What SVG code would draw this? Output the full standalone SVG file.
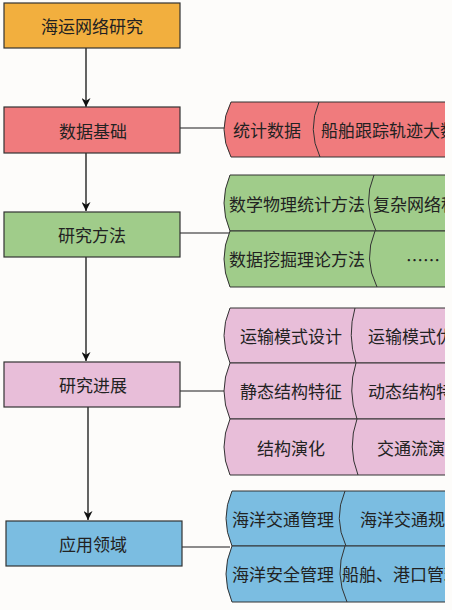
<svg xmlns="http://www.w3.org/2000/svg" width="452" height="610" viewBox="0 0 452 610">
<style>
  text { font-family: "Noto Sans CJK SC", "Noto Sans", sans-serif; font-size: 17px; fill: #222; dominant-baseline: central; }
  .box { stroke: #333; stroke-width: 1.2; }
  .seg { stroke: #333; stroke-width: 1; }
  .div { fill: none; stroke: #333; stroke-width: 1; }
  .arrow { stroke: #111; stroke-width: 1.3; fill: none; marker-end: url(#ah); }
  .link { stroke: #666; stroke-width: 1.6; fill: none; }
  .c-org { fill: #F2AF3E; }
  .c-red { fill: #F07B7D; }
  .c-grn { fill: #A0CC8A; }
  .c-pnk { fill: #E8BED9; }
  .c-blu { fill: #7BBDE1; }
</style>
<defs>
  <marker id="ah" viewBox="0 0 10 10" refX="10" refY="5" markerWidth="9" markerHeight="9" markerUnits="userSpaceOnUse" orient="auto">
    <path d="M0,0 L10,5 L0,10 L3,5 Z" fill="#111"/>
  </marker>
  <clipPath id="clip"><rect x="0" y="0" width="445" height="610"/></clipPath>
</defs>
<rect x="0" y="0" width="452" height="610" fill="#FDFCFA"/>

<g id="connectors">
  <line class="arrow" x1="86" y1="48" x2="86" y2="107"/>
  <line class="arrow" x1="86" y1="153" x2="86" y2="211"/>
  <line class="arrow" x1="86" y1="257" x2="86" y2="361"/>
  <line class="arrow" x1="88" y1="407" x2="88" y2="520"/>
  <line class="link" x1="180" y1="128" x2="224" y2="128"/>
  <line class="link" x1="180" y1="233" x2="230" y2="233"/>
  <line class="link" x1="180" y1="391" x2="224" y2="391"/>
  <line class="link" x1="182" y1="547" x2="230" y2="547"/>
</g>

<g id="node-root">
  <rect class="box c-org" x="4" y="3" width="176" height="45"/>
  <text x="92" y="25.5" text-anchor="middle">海运网络研究</text>
</g>
<g id="node-data">
  <rect class="box c-red" x="4" y="107" width="176" height="46"/>
  <text x="93" y="130" text-anchor="middle">数据基础</text>
</g>
<g id="node-method">
  <rect class="box c-grn" x="4" y="212" width="176" height="45"/>
  <text x="92" y="234" text-anchor="middle">研究方法</text>
</g>
<g id="node-progress">
  <rect class="box c-pnk" x="4" y="362" width="176" height="45"/>
  <text x="93" y="384" text-anchor="middle">研究进展</text>
</g>
<g id="node-app">
  <rect class="box c-blu" x="6" y="521" width="176" height="45"/>
  <text x="93" y="543" text-anchor="middle">应用领域</text>
</g>

<g id="chain-data" clip-path="url(#clip)">
  <path class="seg c-red" d="M231,102 L460,102 L460,157 L231,157 Q217,129.5 231,102 Z"/>
  <path class="div" d="M319,102 Q307,129.5 320,157"/>
  <text x="233" y="129">统计数据</text>
  <text x="321" y="129">船舶跟踪轨迹大数据</text>
</g>

<g id="chain-method" clip-path="url(#clip)">
  <path class="seg c-grn" d="M230,175 L460,175 L460,231 L230,231 Q218,203 230,175 Z"/>
  <path class="seg c-grn" d="M230,231 L460,231 L460,287 L230,287 Q218,259 230,231 Z"/>
  <path class="div" d="M374,175 Q362,203 376,231"/>
  <path class="div" d="M375,231 Q363,259 377,287"/>
  <text x="229" y="203">数学物理统计方法</text>
  <text x="373" y="203">复杂网络科学方法</text>
  <text x="229" y="258">数据挖掘理论方法</text>
  <text x="423" y="259" text-anchor="middle">……</text>
</g>

<g id="chain-progress" clip-path="url(#clip)">
  <path class="seg c-pnk" d="M230,308 L460,308 L460,363 L230,363 Q218,335.5 230,308 Z"/>
  <path class="seg c-pnk" d="M230,363 L460,363 L460,419 L230,419 Q218,391 230,363 Z"/>
  <path class="seg c-pnk" d="M230,419 L460,419 L460,475 L230,475 Q218,447 230,419 Z"/>
  <path class="div" d="M355,308 Q347,335.5 356,363"/>
  <path class="div" d="M356,363 Q347,391 357,419"/>
  <path class="div" d="M357,419 Q347,447 358,475"/>
  <text x="291" y="335" text-anchor="middle">运输模式设计</text>
  <text x="368" y="335">运输模式优化</text>
  <text x="291" y="390" text-anchor="middle">静态结构特征</text>
  <text x="368" y="390">动态结构特征</text>
  <text x="291" y="447" text-anchor="middle">结构演化</text>
  <text x="377" y="447">交通流演化</text>
</g>

<g id="chain-app" clip-path="url(#clip)">
  <path class="seg c-blu" d="M232,491 L460,491 L460,546 L232,546 Q220,518.5 232,491 Z"/>
  <path class="seg c-blu" d="M232,546 L460,546 L460,602 L232,602 Q220,574 232,546 Z"/>
  <path class="div" d="M345,491 Q333,518.5 346,546"/>
  <path class="div" d="M345,546 Q334,574 347,602"/>
  <text x="232" y="518">海洋交通管理</text>
  <text x="360" y="518">海洋交通规划</text>
  <text x="232" y="573">海洋安全管理</text>
  <text x="342" y="573">船舶、港口管理</text>
</g>
</svg>
